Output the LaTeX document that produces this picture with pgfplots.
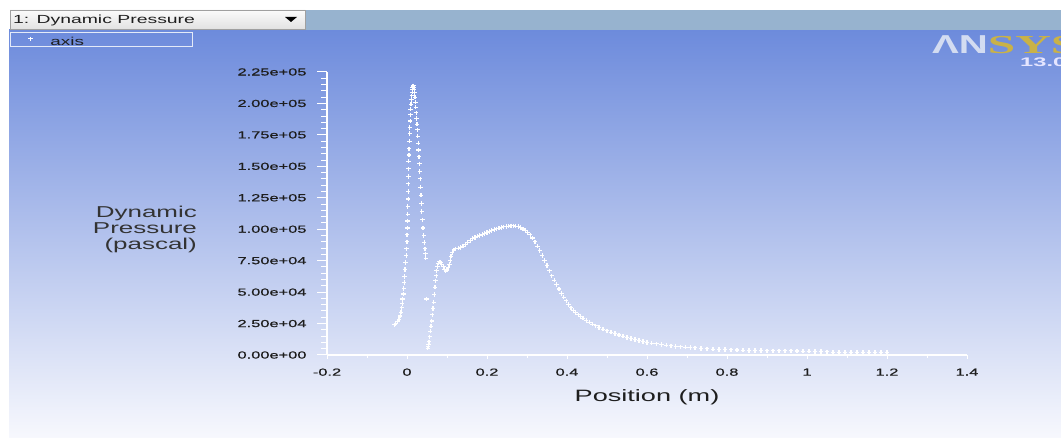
\documentclass[border=0pt]{standalone}
\usepackage{pgfplots}
\pgfplotsset{compat=1.18}
\usepackage{fontspec}
\setmainfont{Liberation Sans}
\newfontfamily\wide[FakeStretch=1.65]{Liberation Sans}
\newfontfamily\tck[FakeStretch=1.6,FakeBold=0.7]{Liberation Sans}
\newfontfamily\logoS[FakeStretch=1.55]{Liberation Sans}
\newfontfamily\logoR[FakeStretch=1.9]{Liberation Serif}
\newfontfamily\logoV[FakeStretch=1.9]{Liberation Sans}
\definecolor{bgtop}{HTML}{6D8BDC}
\definecolor{bgmid}{HTML}{A9BAE9}
\definecolor{bgbot}{HTML}{F7F8FD}
\definecolor{barblue}{HTML}{97B3CF}
\definecolor{tbtop}{HTML}{FBFBFB}
\definecolor{tbbot}{HTML}{E2E2E2}
\definecolor{tbborder}{HTML}{A0A0A0}
\definecolor{lgborder}{HTML}{E4EAF8}
\definecolor{txt}{HTML}{1E1E1E}
\definecolor{logolight}{HTML}{D3DCF1}
\definecolor{logogold}{HTML}{C9B247}
\begin{document}
\begin{tikzpicture}[x=1bp,y=1bp]
\useasboundingbox (0,0) rectangle (1061,438);
\clip (0,0) rectangle (1061,438);
\fill[white] (0,0) rectangle (1061,438);
% plot background
\shade[top color=bgtop, middle color=bgmid, bottom color=bgbot] (9,0) rectangle (1061,408);
% toolbar
\fill[barblue] (305,408) rectangle (1061,428);
\shade[top color=tbtop, bottom color=tbbot] (10,409) rectangle (305,428);
\draw[tbborder, line width=0.6] (10,409) rectangle (305,428);
\fill[black] (285,421) -- (297,421) -- (291,416) -- cycle;
\node[anchor=base west, inner sep=0, text=txt, font=\wide\fontsize{11.8}{12}\selectfont] at (13,414) {1: Dynamic Pressure};
% logo
\node[anchor=base west, inner sep=0, font=\fontsize{26}{26}\selectfont] at (932,384)
  {\textcolor{logolight}{\logoS\bfseries ΛN}\textcolor{logogold}{\logoR\bfseries SYS}};
\node[anchor=base west, inner sep=0, text=white!90!blue, font=\logoV\bfseries\fontsize{12.5}{12.5}\selectfont] at (1020,371) {13.0};
% x axis with data
\begin{axis}[
  at={(327bp,83bp)}, anchor=south west,
  scale only axis, width=640bp, height=283bp,
  xmin=-0.2, xmax=1.4, ymin=0, ymax=225000,
  axis x line=bottom, axis y line=none,
  axis line style={white, line width=1.4bp, -},
  tick align=outside,
  xtick={-0.2,0,0.2,0.4,0.6,0.8,1,1.2,1.4},
  xticklabels={-0.2,0,0.2,0.4,0.6,0.8,1,1.2,1.4},
  minor x tick num=1,
  major tick length=4bp, minor tick length=3bp,
  x tick style={white, line width=1bp},
  xticklabel style={font=\tck\fontsize{10.3}{10}\selectfont, text=txt, yshift=-6bp},
  xlabel={Position (m)},
  xlabel style={at={(axis description cs:0.5,0)}, anchor=base, yshift=-46.5bp, inner sep=0,
    font=\wide\fontsize{16.5}{17}\selectfont, text=txt},
  legend style={at={(axis description cs:-0.4953,1.1413)}, anchor=north west,
    draw=lgborder, fill=none, line width=0.8bp, inner xsep=0pt, inner ysep=0pt,
    nodes={inner sep=0pt}, column sep=0pt,
    font=\wide\fontsize{11.5}{12}\selectfont, text=txt},
  legend image code/.code={\path[draw=none,fill=none] (0bp,-3.5bp) rectangle (40bp,9.5bp);
    \draw[#1] plot coordinates {(20bp,3bp)};},
]
\addplot[only marks, mark=+, mark size=2.2bp, white, line width=1.1bp] table {
x y
-0.031 24000
-0.028 25000
-0.024 26500
-0.020 28500
-0.017 31000
-0.015 34000
-0.013 37500
-0.012 41000
-0.011 44500
-0.009 48500
-0.008 53000
-0.007 57500
-0.006 62500
-0.005 68000
-0.004 73500
-0.002 79000
-0.001 84500
0.000 90000
0.000 95500
0.001 101000
0.001 106500
0.002 112000
0.002 118000
0.003 124000
0.003 130000
0.003 136000
0.004 142000
0.004 148000
0.004 154000
0.005 159000
0.005 164000
0.006 170000
0.007 176000
0.007 181000
0.008 186000
0.009 191000
0.009 195500
0.010 199500
0.011 203000
0.012 206000
0.013 209000
0.013 211000
0.014 212500
0.015 213500
0.016 214000
0.017 213000
0.018 211000
0.019 208500
0.020 205000
0.021 201000
0.022 197000
0.023 192500
0.024 188000
0.025 183500
0.026 179000
0.027 174000
0.028 168500
0.029 163000
0.030 157500
0.031 152000
0.032 146000
0.033 140000
0.034 133500
0.035 127000
0.036 120500
0.037 114000
0.039 107500
0.040 101000
0.042 95000
0.043 89500
0.045 84500
0.046 80500
0.047 77000
0.049 44500
0.052 5500
0.053 7000
0.054 8500
0.055 10500
0.057 14500
0.058 19000
0.060 23000
0.062 27000
0.063 32000
0.065 37000
0.067 42000
0.068 48000
0.070 54000
0.071 59000
0.073 63000
0.074 67000
0.076 70500
0.078 73000
0.081 74000
0.084 73500
0.087 72000
0.091 70000
0.094 68000
0.097 67000
0.100 67500
0.103 69500
0.106 72000
0.108 75000
0.110 78500
0.113 81500
0.117 83500
0.122 84500
0.128 85000
0.134 85500
0.140 86500
0.146 88000
0.152 89500
0.158 91000
0.164 92500
0.170 93500
0.176 94500
0.182 95000
0.188 95800
0.194 96500
0.200 97300
0.206 98200
0.212 99000
0.218 99700
0.224 100300
0.230 100800
0.236 101300
0.242 101800
0.248 102200
0.254 102500
0.260 102700
0.266 102700
0.272 102500
0.278 102000
0.284 101300
0.290 100200
0.296 99000
0.302 97500
0.308 95500
0.314 93000
0.320 90000
0.326 86500
0.332 83000
0.338 79000
0.344 75000
0.350 71000
0.356 67000
0.362 63000
0.368 59500
0.374 56000
0.380 52500
0.386 49000
0.392 46000
0.398 43000
0.404 40000
0.410 37500
0.416 35500
0.422 33500
0.428 32000
0.434 30500
0.440 29200
0.448 27500
0.456 26000
0.464 24500
0.472 23200
0.480 22000
0.490 20600
0.500 19300
0.510 18100
0.520 17000
0.530 15900
0.540 14900
0.550 14000
0.560 13100
0.570 12300
0.580 11400
0.590 10600
0.600 10000
0.612 9400
0.624 8800
0.636 8300
0.648 7800
0.660 7300
0.672 6900
0.684 6500
0.696 6200
0.708 5900
0.720 5600
0.735 5300
0.750 5000
0.765 4700
0.780 4500
0.795 4300
0.810 4100
0.825 4000
0.840 3900
0.855 3700
0.870 3600
0.885 3500
0.900 3400
0.915 3400
0.930 3400
0.945 3400
0.960 3300
0.975 3200
0.990 3100
1.005 3000
1.020 2900
1.035 2800
1.050 2500
1.065 2200
1.080 2100
1.095 2100
1.110 2100
1.125 2100
1.140 2100
1.155 2100
1.170 2100
1.185 2100
1.200 2100
};
\addlegendentry{\makebox[142bp][l]{axis}}
\end{axis}
% y axis
\begin{axis}[
  at={(327bp,83bp)}, anchor=south west,
  scale only axis, width=640bp, height=283bp,
  xmin=-0.2, xmax=1.4, ymin=0, ymax=225000,
  axis x line=none, axis y line=left,
  axis line style={white, line width=1.4bp, -},
  tick align=outside,
  scaled y ticks=false,
  ytick={0,25000,50000,75000,100000,125000,150000,175000,200000,225000},
  yticklabels={0.00e+00,2.50e+04,5.00e+04,7.50e+04,1.00e+05,1.25e+05,1.50e+05,1.75e+05,2.00e+05,2.25e+05},
  minor y tick num=4,
  major tick length=10bp, minor tick length=6bp,
  y tick style={white, line width=1bp},
  yticklabel style={font=\tck\fontsize{10.3}{10}\selectfont, text=txt, anchor=east, xshift=-7bp},
  ylabel={Dynamic\\Pressure\\(pascal)},
  ylabel style={rotate=-90, align=right, anchor=north east, inner sep=0pt,
    at={(axis description cs:-0.203,0.526)},
    font=\wide\fontsize{15.8}{16}\selectfont, text=black!80},
]
\addplot[draw=none] coordinates {(0,0)};
\end{axis}
\end{tikzpicture}
\end{document}
